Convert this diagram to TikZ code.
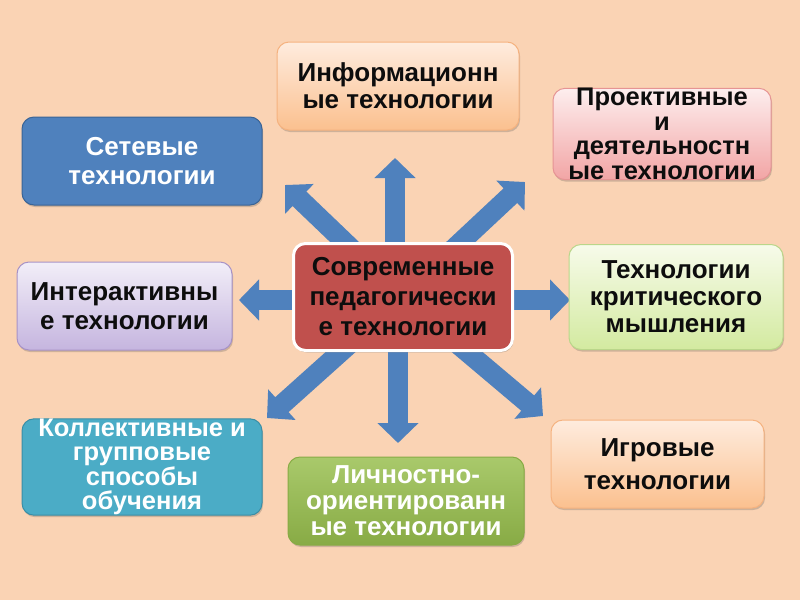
\documentclass[tikz,border=0pt]{standalone}
\usepackage{fontspec}
\setmainfont{Liberation Sans}
\usetikzlibrary{arrows.meta,shadows}
\definecolor{bgc}{HTML}{FAD3B4}
\definecolor{arrblue}{HTML}{4F81BD}
\definecolor{setblue}{HTML}{4F81BD}
\definecolor{setborder}{HTML}{3A6496}
\definecolor{cenred}{HTML}{C0504D}
\definecolor{tealc}{HTML}{4BACC6}
\definecolor{tealborder}{HTML}{3A8EA6}
\definecolor{grtop}{HTML}{A9C96B}
\definecolor{grbot}{HTML}{88AB45}
\definecolor{ortop}{HTML}{FEECDE}
\definecolor{orbot}{HTML}{FBC08F}
\definecolor{orborder}{HTML}{F5B27F}
\definecolor{pktop}{HTML}{FDEEEE}
\definecolor{pkbot}{HTML}{F2A5A5}
\definecolor{pkborder}{HTML}{E69494}
\definecolor{lvtop}{HTML}{F2EEF8}
\definecolor{lvbot}{HTML}{C5B5DF}
\definecolor{lvborder}{HTML}{A792C6}
\definecolor{lgtop}{HTML}{F7FBEA}
\definecolor{lgbot}{HTML}{D3EAA0}
\definecolor{lgborder}{HTML}{BAD68A}
\definecolor{txtdark}{HTML}{0D0D0D}
\tikzset{
  box/.style={rounded corners=12pt, align=center, inner sep=0pt, line width=1pt,
    font=\bfseries\fontsize{26}{27}\selectfont,
    drop shadow={shadow xshift=1pt, shadow yshift=-2pt, opacity=0.25, fill=black!70}},
  boxorange/.style={box, draw=orborder, top color=ortop, bottom color=orbot, text=txtdark},
  boxpink/.style={box, draw=pkborder, top color=pktop, bottom color=pkbot, text=txtdark},
  boxlav/.style={box, draw=lvborder, top color=lvtop, bottom color=lvbot, text=txtdark},
  boxlg/.style={box, draw=lgborder, top color=lgtop, bottom color=lgbot, text=txtdark},
  boxblue/.style={box, draw=setborder, fill=setblue, text=white},
  boxteal/.style={box, draw=tealborder, fill=tealc, text=white},
  boxgreen/.style={box, draw=grbot, top color=grtop, bottom color=grbot, text=white},
  boxred/.style={box, draw=white, line width=3pt, fill=cenred, text=txtdark,
    font=\bfseries\fontsize{26}{30}\selectfont},
  barrow/.style={draw=arrblue, line width=20pt,
    -{Triangle[width=40pt,length=20pt]}}
}
\begin{document}
\begin{tikzpicture}[x=1pt,y=-1pt]
\fill[bgc] (0,0) rectangle (800,600);
\useasboundingbox (0,0) rectangle (800,600);

\coordinate (c0) at (402,297);
\coordinate (tUp) at (395,158);
\coordinate (tDown) at (398,443);
\coordinate (tLeft) at (239,300);
\coordinate (tRight) at (570,300);
\coordinate (tUL) at (285,185);
\coordinate (tUR) at (525,182);
\coordinate (tLL) at (267,418);
\coordinate (tLR) at (543,416);

\draw[barrow] (tUp |- c0) -- (tUp);
\draw[barrow] (tDown |- c0) -- (tDown);
\draw[barrow] (tLeft -| c0) -- (tLeft);
\draw[barrow] (tRight -| c0) -- (tRight);
\draw[barrow] (c0) -- (tUL);
\draw[barrow] (c0) -- (tUR);
\draw[barrow] (c0) -- (tLL);
\draw[barrow] (c0) -- (tLR);

\node[boxred, minimum width=219pt, minimum height=107pt] (cen) at (403,297) {Современные\\педагогически\\е технологии};

\node[boxorange, minimum width=242pt, minimum height=88pt] (info) at (398,86) {Информационн\\ые технологии};
\node[boxpink, minimum width=218pt, minimum height=88pt, font=\bfseries\fontsize{25.5}{24.5}\selectfont] (proj) at (662,134) {Проективные\\и\\деятельностн\\ые технологии};
\node[boxblue, minimum width=240pt, minimum height=88pt, font=\bfseries\fontsize{26}{29}\selectfont] (set) at (142,161) {Сетевые\\технологии};
\node[boxlav, minimum width=215pt, minimum height=88pt, font=\bfseries\fontsize{26}{29}\selectfont] (inter) at (124.5,306) {Интерактивны\\е технологии};
\node[boxlg, minimum width=214pt, minimum height=105pt] (crit) at (676,297) {Технологии\\критического\\мышления};
\node[boxteal, minimum width=240pt, minimum height=88pt, font=\bfseries\fontsize{25.5}{24.5}\selectfont] (coll) at (142,467) {Коллективные и\\групповые\\способы\\обучения};
\node[boxgreen, minimum width=236pt, minimum height=88pt, font=\bfseries\fontsize{26}{26}\selectfont] (lich) at (406,501) {Личностно-\\ориентированн\\ые технологии};
\node[boxorange, minimum width=213pt, minimum height=88pt, font=\bfseries\fontsize{26}{33}\selectfont] (igr) at (657.5,464) {Игровые\\технологии};
\end{tikzpicture}
\end{document}
